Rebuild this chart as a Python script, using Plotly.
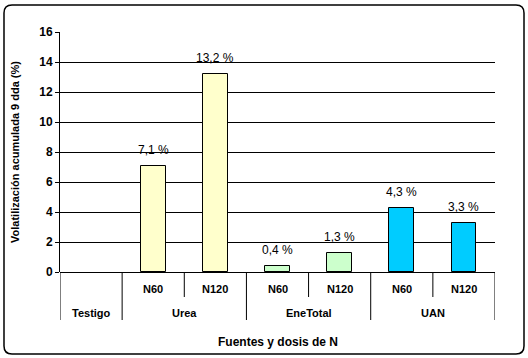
import plotly.graph_objects as go

# ---- data ----
groups = ["Testigo", "Urea", "Urea", "EneTotal", "EneTotal", "UAN", "UAN"]
doses = ["", "N60", "N120", "N60", "N120", "N60", "N120"]
values = [0, 7.1, 13.2, 0.4, 1.3, 4.3, 3.3]
value_labels = ["", "7,1 %", "13,2 %", "0,4 %", "1,3 %", "4,3 %", "3,3 %"]
group_colors = {"Testigo": "#FFFFCC", "Urea": "#FFFFCC", "EneTotal": "#CCFFCC", "UAN": "#00CCFF"}
y_ticks = [0, 2, 4, 6, 8, 10, 12, 14, 16]
y_title = "Volatilización acumulada 9 dda (%)"
x_title = "Fuentes y dosis de N"

FONT = "Liberation Sans, Arial, sans-serif"
W, H = 528, 358
L, R, T, B = 60, 33, 32, 86
PW, PH = W - L - R, H - T - B

xs = list(range(len(values)))

fig = go.Figure()
fig.add_trace(go.Bar(
    x=xs, y=values, width=0.4,
    marker=dict(color=[group_colors[g] for g in groups],
                line=dict(color="black", width=[1 if v > 0 else 0 for v in values])),
    hoverinfo="skip", showlegend=False,
))

annotations = []
# value labels
for x, v, t in zip(xs, values, value_labels):
    if t:
        annotations.append(dict(x=x, y=v, xref="x", yref="y", text=t, showarrow=False,
                                yanchor="middle", yshift=16,
                                font=dict(family=FONT, size=12, color="black")))

def py2paper(py):
    return (T + PH - py) / PH

def px2paper(px):
    return (px - L) / PW

# dose labels
for x, d in zip(xs, doses):
    if d:
        annotations.append(dict(x=x, y=py2paper(289), xref="x", yref="paper", text=f"<b>{d}</b>",
                                showarrow=False, yanchor="middle",
                                font=dict(family=FONT, size=11, color="black")))
# group labels and dividers
shapes = []
order = []
for g in groups:
    if g not in order:
        order.append(g)
long_bottom = py2paper(320)
short_bottom = py2paper(297)
for g in order:
    idx = [i for i, gg in enumerate(groups) if gg == g]
    annotations.append(dict(x=sum(idx) / len(idx), y=py2paper(313), xref="x", yref="paper",
                            text=f"<b>{g}</b>", showarrow=False, yanchor="middle",
                            font=dict(family=FONT, size=11, color="black")))
    shapes.append(dict(type="line", xref="x", yref="paper", x0=idx[0] - 0.5, x1=idx[0] - 0.5,
                       y0=0, y1=long_bottom, line=dict(color="black", width=1)))
    for i in idx[1:]:
        shapes.append(dict(type="line", xref="x", yref="paper", x0=i - 0.5, x1=i - 0.5,
                           y0=0, y1=short_bottom, line=dict(color="black", width=1)))
shapes.append(dict(type="line", xref="x", yref="paper", x0=len(xs) - 0.5, x1=len(xs) - 0.5,
                   y0=0, y1=long_bottom, line=dict(color="black", width=1)))

# axis titles
annotations.append(dict(x=0.5, y=py2paper(342), xref="paper", yref="paper", text=f"<b>{x_title}</b>",
                        showarrow=False, yanchor="middle",
                        font=dict(family=FONT, size=12, color="black")))
annotations.append(dict(x=px2paper(15), y=0.5, xref="paper", yref="paper", text=f"<b>{y_title}</b>",
                        showarrow=False, textangle=-90, xanchor="center", yanchor="middle",
                        font=dict(family=FONT, size=11, color="black")))

# rounded outer border
x0p, x1p, y0p, y1p, r = 4, 524, 5, 354, 8
def P(px, py):
    return f"{px2paper(px):.5f},{py2paper(py):.5f}"
path = (f"M {P(x0p + r, y0p)} L {P(x1p - r, y0p)} Q {P(x1p, y0p)} {P(x1p, y0p + r)} "
        f"L {P(x1p, y1p - r)} Q {P(x1p, y1p)} {P(x1p - r, y1p)} "
        f"L {P(x0p + r, y1p)} Q {P(x0p, y1p)} {P(x0p, y1p - r)} "
        f"L {P(x0p, y0p + r)} Q {P(x0p, y0p)} {P(x0p + r, y0p)} Z")
shapes.append(dict(type="path", xref="paper", yref="paper", path=path,
                   line=dict(color="black", width=1.5), layer="below"))

fig.update_layout(
    width=W, height=H,
    margin=dict(l=L, r=R, t=T, b=B),
    paper_bgcolor="white", plot_bgcolor="white",
    font=dict(family=FONT, color="black"),
    xaxis=dict(range=[-0.5, len(xs) - 0.5], showticklabels=False, showgrid=False,
               zeroline=False, showline=False, ticks="", fixedrange=True),
    yaxis=dict(range=[0, 16], tickvals=y_ticks, ticktext=[f"<b>{v}</b>" for v in y_ticks],
               showgrid=True, gridcolor="black", gridwidth=1,
               zeroline=True, zerolinecolor="black", zerolinewidth=1,
               showline=True, linecolor="black", linewidth=1,
               ticks="outside", ticklen=4, tickcolor="black",
               tickfont=dict(family=FONT, size=12, color="black"), fixedrange=True),
    annotations=annotations,
    shapes=shapes,
    bargap=0,
)

fig.write_html("out.html", config={"displayModeBar": False},
               post_script="document.body.style.margin='0';document.body.style.overflow='hidden';")
